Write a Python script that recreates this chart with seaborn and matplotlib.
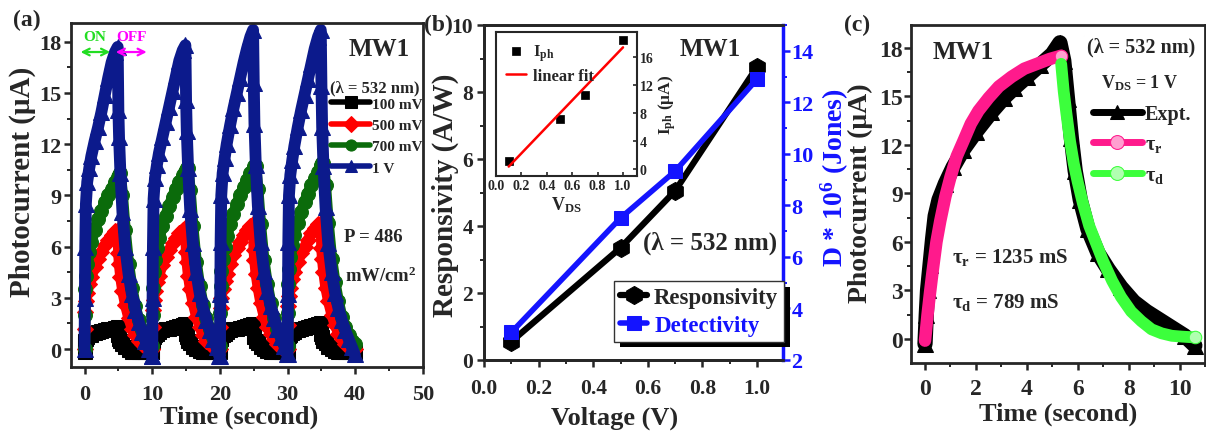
import numpy as np
import seaborn as sns
import matplotlib.pyplot as plt
import matplotlib.patheffects as pe
from matplotlib.ticker import MultipleLocator

# ---------------- data ----------------
# (a) on/off switching, 4 cycles, offsets inside a cycle (s)
cycle_start = [0, 10, 20, 30]
cycle_t = [0.0, 0.05, 0.1, 0.2, 0.4, 0.7, 1.0, 1.5, 2.0, 2.5, 3.0, 3.5, 4.0, 4.5, 4.9,
           5.0, 5.1, 5.3, 5.6, 6.0, 6.5, 7.0, 7.5, 8.0, 8.5, 9.0, 9.5, 9.9]

i_100mv = [
    [-0.2, 0.3, 0.5, 0.6, 0.7, 0.8, 0.85, 0.95, 1.0, 1.05, 1.1, 1.15, 1.2, 1.25, 1.3,
     0.8, 0.6, 0.45, 0.3, 0.1, -0.05, -0.15, -0.2, -0.2, -0.2, -0.2, -0.2, -0.2],
    [-0.2, 0.4, 0.6, 0.7, 0.8, 0.9, 1.0, 1.1, 1.15, 1.2, 1.25, 1.3, 1.35, 1.4, 1.45,
     0.9, 0.7, 0.5, 0.35, 0.15, 0.0, -0.1, -0.15, -0.2, -0.2, -0.2, -0.2, -0.2],
    [-0.2, 0.4, 0.6, 0.7, 0.8, 0.9, 1.0, 1.1, 1.15, 1.2, 1.25, 1.3, 1.35, 1.4, 1.45,
     0.9, 0.7, 0.5, 0.35, 0.15, 0.0, -0.1, -0.15, -0.2, -0.2, -0.2, -0.2, -0.2],
    [-0.2, 0.4, 0.6, 0.75, 0.85, 0.95, 1.0, 1.1, 1.2, 1.25, 1.3, 1.35, 1.4, 1.45, 1.5,
     0.9, 0.7, 0.5, 0.35, 0.15, 0.0, -0.1, -0.15, -0.2, -0.2, -0.2, -0.2, -0.2],
]
i_500mv = [
    [0.0, 1.2, 2.2, 2.8, 3.3, 3.8, 4.2, 4.8, 5.3, 5.7, 6.1, 6.4, 6.7, 6.9, 7.0,
     5.6, 5.0, 4.2, 3.4, 2.6, 1.8, 1.2, 0.8, 0.5, 0.3, 0.15, 0.05, 0.0],
    [0.0, 1.3, 2.3, 2.9, 3.4, 3.9, 4.3, 4.9, 5.4, 5.8, 6.2, 6.5, 6.8, 7.0, 7.1,
     5.7, 5.1, 4.3, 3.5, 2.7, 1.9, 1.3, 0.8, 0.5, 0.3, 0.15, 0.05, 0.0],
    [0.0, 1.3, 2.4, 3.0, 3.5, 4.0, 4.4, 5.0, 5.5, 5.9, 6.3, 6.7, 7.0, 7.2, 7.3,
     5.8, 5.2, 4.4, 3.6, 2.7, 1.9, 1.3, 0.9, 0.6, 0.3, 0.15, 0.05, 0.0],
    [0.0, 1.4, 2.5, 3.1, 3.6, 4.1, 4.5, 5.1, 5.6, 6.0, 6.4, 6.8, 7.1, 7.3, 7.4,
     5.9, 5.3, 4.5, 3.6, 2.8, 2.0, 1.4, 0.9, 0.6, 0.3, 0.15, 0.05, 0.0],
]
i_700mv = [
    [0.0, 2.0, 3.5, 4.3, 5.0, 5.7, 6.3, 7.0, 7.6, 8.1, 8.6, 9.0, 9.4, 9.8, 10.0,
     10.1, 10.2, 10.3, 9.0, 7.0, 5.0, 3.6, 2.5, 1.7, 1.1, 0.7, 0.4, 0.2],
    [0.2, 2.0, 3.6, 4.5, 5.2, 5.9, 6.5, 7.2, 7.8, 8.4, 8.9, 9.4, 9.8, 10.2, 10.4,
     10.5, 10.6, 10.6, 9.3, 7.2, 5.1, 3.7, 2.6, 1.8, 1.2, 0.7, 0.4, 0.2],
    [0.2, 2.1, 3.7, 4.6, 5.3, 6.0, 6.6, 7.3, 7.9, 8.5, 9.0, 9.5, 9.9, 10.3, 10.5,
     10.6, 10.7, 10.7, 9.4, 7.3, 5.2, 3.8, 2.7, 1.8, 1.2, 0.8, 0.4, 0.2],
    [0.2, 2.1, 3.8, 4.7, 5.4, 6.1, 6.7, 7.4, 8.0, 8.6, 9.1, 9.6, 10.0, 10.4, 10.7,
     10.8, 10.9, 10.9, 9.6, 7.4, 5.3, 3.9, 2.8, 1.9, 1.3, 0.8, 0.5, 0.3],
]
i_1v = [
    [0.0, 3.0, 6.0, 8.5, 9.8, 10.6, 11.3, 12.2, 13.0, 13.9, 14.9, 15.9, 16.8, 17.4, 17.7,
     14.0, 12.4, 10.3, 8.0, 6.0, 4.4, 3.2, 2.3, 1.6, 1.0, 0.5, 0.0, -0.4],
    [-0.4, 3.0, 6.0, 8.8, 10.0, 10.8, 11.5, 12.4, 13.3, 14.2, 15.1, 16.0, 16.9, 17.5, 17.8,
     14.6, 12.8, 10.6, 8.2, 6.2, 4.5, 3.3, 2.4, 1.7, 1.1, 0.6, 0.1, -0.4],
    [-0.4, 3.2, 6.3, 9.0, 10.3, 11.2, 12.0, 13.1, 14.1, 15.0, 15.9, 16.8, 17.6, 18.3, 18.7,
     15.6, 13.2, 10.8, 8.4, 6.3, 4.6, 3.4, 2.5, 1.8, 1.2, 0.7, 0.2, -0.3],
    [-0.3, 3.2, 6.3, 9.0, 10.2, 11.1, 11.9, 13.0, 14.0, 14.9, 15.8, 16.7, 17.6, 18.3, 18.7,
     15.4, 13.0, 10.7, 8.3, 6.2, 4.5, 3.3, 2.4, 1.7, 1.1, 0.6, 0.1, -0.3],
]
bias_labels = ["100 mV", "500 mV", "700 mV", "1 V"]

# (b) responsivity / detectivity vs bias, inset photocurrent
volt = [0.1, 0.5, 0.7, 1.0]
resp = [0.55, 3.35, 5.05, 8.75]
detect = [3.07, 7.51, 9.33, 12.9]
iph = [1.2, 7.1, 10.6, 18.4]

# (c) single cycle at 1 V with rise / decay fits
expt_t = [0.0, 0.05, 0.1, 0.2, 0.3, 0.4, 0.55, 0.8, 1.1, 1.5, 2.0, 2.6, 3.1, 3.5, 4.0,
          4.5, 5.0, 5.3, 5.45, 5.6, 5.75, 5.9, 6.1, 6.4, 6.8, 7.2, 7.7, 8.2, 8.7, 9.2,
          9.7, 10.2, 10.6]
expt_i = [-0.3, 1.5, 3.0, 4.6, 6.2, 7.6, 8.6, 9.6, 10.6, 11.7, 12.8, 14.0, 14.9, 15.5, 16.2,
          16.9, 17.6, 18.3, 17.2, 14.8, 12.4, 10.4, 8.6, 6.8, 5.3, 4.3, 3.2, 2.3, 1.7, 1.2,
          0.7, 0.2, -0.4]
rise_t = [0.0, 0.1, 0.2, 0.3, 0.45, 0.6, 0.8, 1.0, 1.25, 1.5, 1.8, 2.1, 2.5, 2.9, 3.4,
          3.9, 4.4, 4.9, 5.35]
rise_i = [-0.1, 1.5, 2.9, 4.2, 6.0, 7.3, 8.8, 10.0, 11.3, 12.2, 13.3, 14.1, 14.9, 15.6, 16.2,
          16.7, 17.0, 17.3, 17.5]
decay_t = [5.35, 5.45, 5.55, 5.7, 5.85, 6.0, 6.2, 6.45, 6.7, 7.0, 7.35, 7.7, 8.1, 8.5, 8.9,
           9.3, 9.7, 10.1, 10.6]
decay_i = [17.0, 15.3, 14.0, 12.2, 10.8, 9.7, 8.4, 7.0, 6.0, 4.8, 3.6, 2.6, 1.7, 1.1, 0.6,
           0.35, 0.2, 0.15, 0.1]

# ---------------- style ----------------
sns.set_theme(style="ticks")
plt.rcParams["font.family"] = ["Liberation Serif", "DejaVu Serif"]
plt.rcParams["font.weight"] = "bold"
plt.rcParams["axes.labelweight"] = "bold"
plt.rcParams["axes.linewidth"] = 2
plt.rcParams["mathtext.default"] = "regular"

NAVY = "#0c1a8c"
DGREEN = "#0b6b0b"
BLUE = "#1414ff"
PINK = "#ff1a8c"
LGREEN = "#3cff3c"

fig = plt.figure(figsize=(12.06, 4.39), dpi=100)
W, H = 1206, 439


def px_axes(left, right, top, bottom):
    return fig.add_axes([left / W, (H - bottom) / H, (right - left) / W, (bottom - top) / H])


def style_ticks(ax, size, pad, left=True, right=False):
    ax.tick_params(which="major", direction="out", length=5, width=1.8, labelsize=size, pad=pad,
                   top=False, right=right, left=left)
    ax.tick_params(which="minor", direction="out", length=3, width=1.4, top=False, right=right, left=left)
    for lab in ax.get_xticklabels() + ax.get_yticklabels():
        lab.set_fontweight("bold")


def drop_legend(ax):
    if ax.get_legend() is not None:
        ax.get_legend().remove()


def thin_handles(leg, lw, ms):
    for h in leg.legend_handles:
        h.set_linewidth(lw)
        h.set_markersize(ms)


# ---------------- (a) ----------------
ax_a = px_axes(71, 423, 24, 368)
styles_a = [(i_100mv, "black", "s", 10, 9), (i_500mv, "red", "D", 8, 7.5),
            (i_700mv, DGREEN, "o", 10, 8), (i_1v, NAVY, "^", 11, 8.5)]
for (vals, col, mk, ms, lw), lab in zip(styles_a, bias_labels):
    t = np.concatenate([np.add(s, cycle_t) for s in cycle_start])
    y = np.concatenate(vals)
    sns.lineplot(x=t, y=y, ax=ax_a, color=col, marker=mk, markersize=ms, linewidth=lw,
                 markeredgecolor=col, estimator=None, sort=False, label=lab)
drop_legend(ax_a)
ax_a.set_xlim(-2, 50)
ax_a.set_ylim(-1.05, 19.1)
ax_a.xaxis.set_major_locator(MultipleLocator(10))
ax_a.xaxis.set_minor_locator(MultipleLocator(5))
ax_a.yaxis.set_major_locator(MultipleLocator(3))
ax_a.yaxis.set_minor_locator(MultipleLocator(1.5))
style_ticks(ax_a, 16, 2)
ax_a.tick_params(axis="x", pad=7)
ax_a.set_xlabel("Time (second)", fontsize=19)
ax_a.set_ylabel("Photocurrent (μA)", fontsize=21)
ax_a.xaxis.set_label_coords(0.477, -0.11)
ax_a.yaxis.set_label_coords(-0.1, 0.54)
leg_a = ax_a.legend(loc="upper left", bbox_to_anchor=(0.74, 0.785), frameon=False, fontsize=11,
                    handlelength=2.5, handletextpad=0.15, labelspacing=0.5, borderaxespad=0,
                    borderpad=0)
thin_handles(leg_a, 4, 8)
ax_a.text(43.5, 17.6, "MW1", fontsize=18, ha="center", va="center")
ax_a.text(42.9, 15.35, "(λ = 532 nm)", fontsize=12, ha="center", va="center")
ax_a.text(42.6, 6.6, "P = 486", fontsize=13.5, ha="center", va="center")
ax_a.text(43.7, 4.3, "mW/cm$^2$", fontsize=13.5, ha="center", va="center")
ax_a.text(1.5, 18.3, "ON", color="#22dd22", fontsize=11, ha="center", va="center")
ax_a.text(7.0, 18.3, "OFF", color="#ff00ff", fontsize=11, ha="center", va="center")
ax_a.annotate("", xy=(-1.0, 17.4), xytext=(4.2, 17.4),
              arrowprops=dict(arrowstyle="<->", color="#22dd22", lw=1.6))
ax_a.annotate("", xy=(4.2, 17.4), xytext=(9.6, 17.4),
              arrowprops=dict(arrowstyle="<->", color="#ff00ff", lw=1.6))

# ---------------- (b) ----------------
ax_b = px_axes(484, 783, 26, 361)
sns.lineplot(x=volt, y=resp, ax=ax_b, color="black", marker="h", markersize=13, linewidth=4.5,
             markeredgecolor="black", label="Responsivity")
drop_legend(ax_b)
ax_b2 = ax_b.twinx()
sns.lineplot(x=volt, y=detect, ax=ax_b2, color=BLUE, marker="s", markersize=10, linewidth=4,
             markeredgecolor=BLUE, label="Detectivity")
drop_legend(ax_b2)
ax_b.set_xlim(0, 1.095)
ax_b.set_ylim(0, 10)
ax_b2.set_ylim(2, 15)
ax_b.xaxis.set_major_locator(MultipleLocator(0.2))
ax_b.xaxis.set_minor_locator(MultipleLocator(0.1))
ax_b.yaxis.set_major_locator(MultipleLocator(2))
ax_b.yaxis.set_minor_locator(MultipleLocator(1))
ax_b2.yaxis.set_major_locator(MultipleLocator(2))
ax_b2.yaxis.set_minor_locator(MultipleLocator(1))
style_ticks(ax_b, 15.5, 3)
ax_b.tick_params(axis="x", pad=8)
ax_b2.tick_params(which="major", direction="out", length=5, width=1.8, labelsize=16, pad=1,
                  colors=BLUE, left=False, right=True)
ax_b2.tick_params(which="minor", direction="out", length=3, width=1.4, colors=BLUE,
                  left=False, right=True)
for lab in ax_b2.get_yticklabels():
    lab.set_fontweight("bold")
ax_b2.spines["right"].set_color(BLUE)
ax_b2.spines["right"].set_linewidth(2.5)
ax_b.set_xlabel("Voltage (V)", fontsize=19)
ax_b.set_ylabel("Responsivity (A/W)", fontsize=21)
ax_b2.set_ylabel("D * 10$^6$ (Jones)", fontsize=20, color=BLUE)
ax_b.xaxis.set_label_coords(0.438, -0.135)
ax_b.yaxis.set_label_coords(-0.085, 0.495)
ax_b2.yaxis.set_label_coords(1.118, 0.546)
ax_b.text(0.828, 9.3, "MW1", fontsize=18, ha="center", va="center")
ax_b.text(0.828, 3.52, "(λ = 532 nm)", fontsize=18, ha="center", va="center")
leg_b = ax_b2.legend(handles=ax_b.get_lines()[:1] + ax_b2.get_lines()[:1],
                     labels=["Responsivity", "Detectivity"], loc="lower left",
                     bbox_to_anchor=(0.435, 0.054), fontsize=16.5, handlelength=1.2,
                     handletextpad=0.3, labelspacing=0.3, borderpad=0.25, borderaxespad=0,
                     fancybox=False, framealpha=1, edgecolor="#333333")
leg_b.get_frame().set_linewidth(1)
leg_b.get_frame().set_path_effects([pe.SimplePatchShadow(offset=(4, -4), shadow_rgbFace="black",
                                                         alpha=1.0), pe.Normal()])
leg_b.get_texts()[1].set_color(BLUE)

# inset
ax_in = px_axes(496, 637, 33, 177)
sns.scatterplot(x=volt, y=iph, ax=ax_in, marker="s", color="black", s=40, edgecolor="black",
                label="I$_{ph}$")
sns.regplot(x=volt, y=iph, ax=ax_in, scatter=False, ci=None, color="red",
            line_kws={"linewidth": 1.8}, label="linear fit")
ax_in.set_xlim(0, 1.11)
ax_in.set_ylim(-0.95, 19.5)
ax_in.xaxis.set_major_locator(MultipleLocator(0.2))
ax_in.yaxis.set_major_locator(MultipleLocator(4))
ax_in.yaxis.tick_right()
ax_in.yaxis.set_label_position("right")
ax_in.tick_params(which="major", direction="in", length=3, width=1.2, labelsize=10, pad=2,
                  top=False, left=False, right=True)
for lab in ax_in.get_xticklabels() + ax_in.get_yticklabels():
    lab.set_fontweight("bold")
for sp in ax_in.spines.values():
    sp.set_linewidth(1.5)
ax_in.set_xlabel("V$_{DS}$", fontsize=13, labelpad=2)
ax_in.set_ylabel("I$_{ph}$ (μA)", fontsize=12.5, labelpad=2, rotation=90)
ax_in.legend(loc="upper left", frameon=False, fontsize=12, handlelength=1.2, handletextpad=0.4,
             labelspacing=0.3, borderaxespad=0.2, markerscale=0.8)

# ---------------- (c) ----------------
ax_c = px_axes(911, 1205, 26, 364)
sns.lineplot(x=expt_t, y=expt_i, ax=ax_c, color="black", marker="^", markersize=12, linewidth=11,
             markeredgecolor="black", estimator=None, sort=False, label="Expt.")
sns.lineplot(x=rise_t, y=rise_i, ax=ax_c, color=PINK, linewidth=9, marker="o",
             markevery=[len(rise_t) - 1], markersize=9, markerfacecolor="#ff9fd0",
             markeredgecolor=PINK, estimator=None, sort=False, label="τ$_r$")
sns.lineplot(x=decay_t, y=decay_i, ax=ax_c, color=LGREEN, linewidth=8.5, marker="o",
             markevery=[len(decay_t) - 1], markersize=9, markerfacecolor="#b0ffb0",
             markeredgecolor=LGREEN, estimator=None, sort=False, label="τ$_d$")
drop_legend(ax_c)
ax_c.set_xlim(-0.55, 11)
ax_c.set_ylim(-1.48, 19.4)
ax_c.xaxis.set_major_locator(MultipleLocator(2))
ax_c.xaxis.set_minor_locator(MultipleLocator(1))
ax_c.yaxis.set_major_locator(MultipleLocator(3))
ax_c.yaxis.set_minor_locator(MultipleLocator(1.5))
style_ticks(ax_c, 17, 1)
ax_c.tick_params(axis="x", pad=6)
ax_c.set_xlabel("Time (second)", fontsize=19)
ax_c.set_ylabel("Photocurrent (μA)", fontsize=20)
ax_c.xaxis.set_label_coords(0.5, -0.115)
ax_c.yaxis.set_label_coords(-0.128, 0.506)
leg_c = ax_c.legend(loc="upper left", bbox_to_anchor=(0.62, 0.765), frameon=False, fontsize=14.5,
                    handlelength=2.4, handletextpad=0.15, labelspacing=0.5, borderaxespad=0,
                    borderpad=0)
thin_handles(leg_c, 5, 10)
ax_c.text(1.49, 17.75, "MW1", fontsize=18, ha="center", va="center")
ax_c.text(8.5, 18.1, "(λ = 532 nm)", fontsize=14.5, ha="center", va="center")
ax_c.text(8.43, 15.9, "V$_{DS}$ = 1 V", fontsize=13, ha="center", va="center")
ax_c.text(1.06, 5.07, "τ$_r$ = 1235 mS", fontsize=15, ha="left", va="center")
ax_c.text(1.06, 2.35, "τ$_d$ = 789 mS", fontsize=15, ha="left", va="center")

# panel letters
fig.text(13 / W, 1 - 20 / H, "(a)", fontsize=17, va="center", ha="left")
fig.text(424 / W, 1 - 25 / H, "(b)", fontsize=17, va="center", ha="left")
fig.text(844 / W, 1 - 25 / H, "(c)", fontsize=17, va="center", ha="left")

fig.savefig("out.png", dpi=100)
